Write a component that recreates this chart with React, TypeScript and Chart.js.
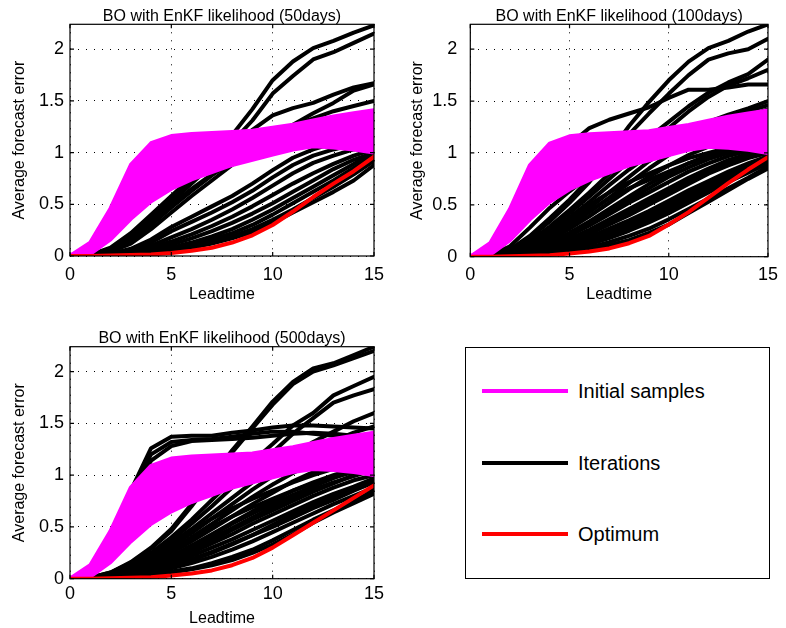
import React, { useEffect, useRef } from "react";
import { Chart, registerables } from "chart.js";

Chart.register(...registerables);

// ---------------- data ----------------
const leadtime = [0, 1, 2, 3, 4, 5, 6, 7, 8, 9, 10, 11, 12, 13, 14, 15];
const xTickLabels = ["0", "5", "10", "15"];
const yTickLabels = ["0", "0.5", "1", "1.5", "2"];
const titles = [
  "BO with EnKF likelihood (50days)",
  "BO with EnKF likelihood (100days)",
  "BO with EnKF likelihood (500days)",
];
const xLabel = "Leadtime";
const yLabel = "Average forecast error";
const legendLabels = ["Initial samples", "Iterations", "Optimum"];

// initial samples (first = upper edge of band, last = lower edge)
const initialSamples = [
  [0, 0.13, 0.46, 0.88, 1.09, 1.16, 1.18, 1.19, 1.2, 1.21, 1.24, 1.27, 1.31, 1.35, 1.38, 1.41],
  [0, 0.1, 0.38, 0.75, 0.98, 1.08, 1.12, 1.15, 1.17, 1.19, 1.22, 1.25, 1.28, 1.3, 1.32, 1.34],
  [0, 0.08, 0.32, 0.65, 0.88, 1.0, 1.06, 1.1, 1.13, 1.16, 1.19, 1.22, 1.24, 1.26, 1.28, 1.3],
  [0, 0.06, 0.27, 0.56, 0.78, 0.9, 0.98, 1.03, 1.07, 1.1, 1.14, 1.17, 1.2, 1.22, 1.24, 1.25],
  [0, 0.05, 0.23, 0.48, 0.69, 0.82, 0.9, 0.96, 1.01, 1.05, 1.09, 1.13, 1.16, 1.18, 1.19, 1.2],
  [0, 0.04, 0.2, 0.43, 0.62, 0.75, 0.84, 0.9, 0.96, 1.0, 1.05, 1.09, 1.12, 1.13, 1.12, 1.1],
  [0, 0.03, 0.18, 0.4, 0.57, 0.7, 0.79, 0.86, 0.92, 0.97, 1.01, 1.06, 1.1, 1.1, 1.08, 1.05],
  [0, 0.02, 0.16, 0.36, 0.53, 0.65, 0.74, 0.81, 0.88, 0.93, 0.98, 1.03, 1.06, 1.05, 1.03, 1.0],
];

const iterations50 = [
  [0, 0.01, 0.08, 0.22, 0.4, 0.58, 0.76, 0.96, 1.17, 1.42, 1.7, 1.88, 2.01, 2.08, 2.16, 2.23],
  [0, 0.01, 0.07, 0.2, 0.37, 0.55, 0.73, 0.92, 1.1, 1.31, 1.57, 1.74, 1.9, 1.97, 2.06, 2.15],
  [0, 0.01, 0.06, 0.18, 0.34, 0.52, 0.7, 0.88, 1.06, 1.22, 1.36, 1.43, 1.48, 1.56, 1.63, 1.67],
  [0, 0, 0.04, 0.12, 0.26, 0.42, 0.58, 0.73, 0.88, 1.02, 1.15, 1.27, 1.38, 1.48, 1.6, 1.66],
  [0, 0, 0.05, 0.15, 0.3, 0.47, 0.63, 0.78, 0.92, 1.05, 1.17, 1.26, 1.33, 1.4, 1.45, 1.5],
  [0, 0.01, 0.07, 0.2, 0.38, 0.56, 0.73, 0.87, 0.98, 1.08, 1.15, 1.2, 1.25, 1.29, 1.33, 1.36],
  [0, 0.01, 0.06, 0.17, 0.32, 0.49, 0.65, 0.79, 0.9, 0.99, 1.06, 1.12, 1.17, 1.21, 1.24, 1.27],
  [0, 0, 0.02, 0.07, 0.16, 0.28, 0.38, 0.48, 0.58, 0.7, 0.83, 0.95, 1.03, 1.09, 1.13, 1.16],
  [0, 0, 0.02, 0.06, 0.13, 0.24, 0.33, 0.42, 0.52, 0.63, 0.76, 0.88, 0.97, 1.03, 1.08, 1.11],
  [0, 0, 0.01, 0.05, 0.1, 0.18, 0.26, 0.35, 0.45, 0.56, 0.68, 0.8, 0.9, 0.97, 1.03, 1.07],
  [0, 0, 0.01, 0.04, 0.08, 0.14, 0.21, 0.29, 0.38, 0.48, 0.59, 0.7, 0.8, 0.89, 0.97, 1.03],
  [0, 0, 0.01, 0.03, 0.06, 0.11, 0.17, 0.24, 0.32, 0.41, 0.51, 0.62, 0.73, 0.84, 0.93, 1.0],
  [0, 0, 0.01, 0.02, 0.04, 0.07, 0.11, 0.16, 0.22, 0.3, 0.4, 0.51, 0.62, 0.73, 0.85, 0.97],
  [0, 0, 0.01, 0.02, 0.04, 0.06, 0.09, 0.14, 0.19, 0.26, 0.35, 0.45, 0.56, 0.67, 0.79, 0.92],
  [0, 0, 0.01, 0.02, 0.03, 0.05, 0.08, 0.12, 0.17, 0.23, 0.32, 0.42, 0.52, 0.62, 0.73, 0.88],
  [0, 0, 0.01, 0.02, 0.05, 0.08, 0.13, 0.19, 0.26, 0.35, 0.45, 0.56, 0.67, 0.78, 0.89, 1.0],
];
const optimum50 = [0, 0, 0.005, 0.01, 0.015, 0.03, 0.05, 0.08, 0.13, 0.2, 0.3, 0.43, 0.57, 0.7, 0.82, 0.96];

const iterations100 = [
  [0, 0.01, 0.07, 0.2, 0.37, 0.55, 0.75, 1.0, 1.26, 1.49, 1.7, 1.88, 2.01, 2.08, 2.17, 2.24],
  [0, 0.01, 0.06, 0.18, 0.34, 0.52, 0.72, 0.96, 1.18, 1.38, 1.57, 1.75, 1.9, 1.96, 2.0, 2.1],
  [0, 0.01, 0.17, 0.45, 0.8, 1.08, 1.24, 1.32, 1.38, 1.44, 1.53, 1.61, 1.61, 1.63, 1.66, 1.66],
  [0, 0.01, 0.05, 0.15, 0.29, 0.45, 0.62, 0.8, 0.98, 1.15, 1.3, 1.45, 1.58, 1.68, 1.76, 1.9],
  [0, 0.01, 0.05, 0.14, 0.27, 0.42, 0.58, 0.75, 0.92, 1.08, 1.24, 1.4, 1.54, 1.65, 1.72, 1.8],
  [0, 0, 0.04, 0.12, 0.24, 0.38, 0.53, 0.69, 0.84, 0.98, 1.1, 1.2, 1.3, 1.37, 1.43, 1.5],
  [0, 0, 0.03, 0.1, 0.2, 0.33, 0.47, 0.62, 0.77, 0.92, 1.05, 1.16, 1.26, 1.34, 1.4, 1.46],
  [0, 0, 0.03, 0.09, 0.18, 0.3, 0.43, 0.57, 0.71, 0.85, 0.98, 1.1, 1.2, 1.28, 1.36, 1.42],
  [0, 0, 0.03, 0.08, 0.16, 0.27, 0.39, 0.52, 0.65, 0.77, 0.88, 0.98, 1.06, 1.12, 1.16, 1.2],
  [0, 0, 0.02, 0.07, 0.14, 0.23, 0.34, 0.46, 0.58, 0.7, 0.8, 0.9, 0.98, 1.04, 1.08, 1.1],
  [0, 0, 0.02, 0.06, 0.12, 0.2, 0.3, 0.41, 0.52, 0.62, 0.72, 0.82, 0.9, 0.97, 1.02, 1.05],
  [0, 0, 0.02, 0.05, 0.1, 0.17, 0.26, 0.36, 0.46, 0.56, 0.66, 0.76, 0.85, 0.93, 0.99, 1.03],
  [0, 0, 0.01, 0.04, 0.09, 0.15, 0.22, 0.31, 0.4, 0.5, 0.6, 0.7, 0.8, 0.88, 0.95, 1.0],
  [0, 0, 0.01, 0.04, 0.08, 0.13, 0.19, 0.27, 0.35, 0.44, 0.54, 0.64, 0.73, 0.82, 0.9, 0.97],
  [0, 0, 0.01, 0.03, 0.06, 0.1, 0.15, 0.22, 0.3, 0.39, 0.48, 0.58, 0.68, 0.77, 0.86, 0.94],
  [0, 0, 0.01, 0.03, 0.05, 0.08, 0.12, 0.18, 0.25, 0.33, 0.42, 0.52, 0.62, 0.72, 0.81, 0.9],
  [0, 0, 0.01, 0.02, 0.04, 0.06, 0.09, 0.14, 0.2, 0.27, 0.36, 0.46, 0.56, 0.66, 0.76, 0.87],
  [0, 0, 0.01, 0.02, 0.03, 0.05, 0.07, 0.11, 0.16, 0.23, 0.31, 0.42, 0.53, 0.64, 0.75, 0.85],
  [0, 0, 0.03, 0.1, 0.22, 0.36, 0.5, 0.62, 0.72, 0.8, 0.88, 0.95, 1.0, 1.05, 1.08, 1.12],
  [0, 0, 0.02, 0.08, 0.18, 0.3, 0.44, 0.56, 0.66, 0.74, 0.82, 0.9, 0.96, 1.02, 1.05, 1.08],
  [0, 0.01, 0.1, 0.28, 0.47, 0.63, 0.78, 0.9, 1.0, 1.08, 1.15, 1.2, 1.25, 1.28, 1.3, 1.33],
  [0, 0, 0.02, 0.06, 0.13, 0.22, 0.32, 0.44, 0.55, 0.66, 0.77, 0.86, 0.94, 1.0, 1.05, 1.09],
  [0, 0, 0.01, 0.04, 0.09, 0.16, 0.24, 0.33, 0.43, 0.53, 0.63, 0.73, 0.82, 0.9, 0.97, 1.02],
  [0, 0, 0.01, 0.03, 0.07, 0.12, 0.17, 0.24, 0.32, 0.41, 0.51, 0.61, 0.71, 0.8, 0.88, 0.95],
  [0, 0, 0.01, 0.02, 0.05, 0.09, 0.13, 0.19, 0.27, 0.36, 0.45, 0.55, 0.65, 0.74, 0.83, 0.92],
];
const optimum100 = [0, 0, 0.005, 0.01, 0.015, 0.03, 0.05, 0.08, 0.13, 0.2, 0.31, 0.43, 0.57, 0.71, 0.84, 0.96];

const iterations500 = [
  [0, 0.01, 0.06, 0.16, 0.3, 0.48, 0.72, 0.98, 1.24, 1.47, 1.71, 1.9, 2.03, 2.08, 2.16, 2.24],
  [0, 0.01, 0.06, 0.15, 0.29, 0.46, 0.7, 0.96, 1.22, 1.45, 1.68, 1.88, 2.0, 2.06, 2.13, 2.2],
  [0, 0.01, 0.05, 0.13, 0.25, 0.4, 0.57, 0.76, 0.95, 1.13, 1.3, 1.48, 1.6, 1.77, 1.86, 1.95],
  [0, 0.01, 0.05, 0.12, 0.23, 0.37, 0.53, 0.7, 0.88, 1.05, 1.22, 1.4, 1.55, 1.7, 1.77, 1.83],
  [0, 0, 0.04, 0.11, 0.21, 0.34, 0.48, 0.63, 0.78, 0.93, 1.07, 1.2, 1.32, 1.42, 1.52, 1.6],
  [0, 0.01, 0.4, 0.85, 1.26, 1.37, 1.38, 1.38, 1.41, 1.43, 1.46, 1.48, 1.48, 1.47, 1.46, 1.45],
  [0, 0.01, 0.38, 0.82, 1.2, 1.32, 1.34, 1.35, 1.37, 1.4, 1.42, 1.42, 1.4, 1.38, 1.37, 1.36],
  [0, 0.01, 0.36, 0.8, 1.14, 1.28, 1.33, 1.34, 1.35, 1.36, 1.38, 1.4, 1.41, 1.4, 1.38, 1.35],
  [0, 0, 0.04, 0.1, 0.19, 0.31, 0.44, 0.58, 0.72, 0.86, 0.99, 1.12, 1.23, 1.33, 1.41, 1.47],
  [0, 0, 0.03, 0.09, 0.17, 0.28, 0.4, 0.53, 0.66, 0.79, 0.91, 1.02, 1.12, 1.2, 1.26, 1.3],
  [0, 0, 0.03, 0.08, 0.15, 0.25, 0.36, 0.48, 0.6, 0.72, 0.83, 0.94, 1.03, 1.1, 1.16, 1.2],
  [0, 0, 0.02, 0.07, 0.13, 0.22, 0.32, 0.43, 0.54, 0.65, 0.75, 0.85, 0.93, 1.0, 1.06, 1.1],
  [0, 0, 0.02, 0.06, 0.12, 0.2, 0.29, 0.39, 0.49, 0.59, 0.69, 0.78, 0.86, 0.93, 0.99, 1.05],
  [0, 0, 0.02, 0.05, 0.1, 0.17, 0.25, 0.34, 0.43, 0.53, 0.62, 0.71, 0.8, 0.88, 0.95, 1.0],
  [0, 0, 0.01, 0.04, 0.09, 0.15, 0.22, 0.3, 0.38, 0.47, 0.56, 0.65, 0.74, 0.82, 0.89, 0.97],
  [0, 0, 0.01, 0.04, 0.08, 0.13, 0.19, 0.26, 0.34, 0.42, 0.5, 0.59, 0.68, 0.76, 0.85, 0.93],
  [0, 0, 0.01, 0.03, 0.06, 0.1, 0.15, 0.21, 0.28, 0.36, 0.45, 0.54, 0.63, 0.72, 0.8, 0.88],
  [0, 0, 0.01, 0.02, 0.04, 0.07, 0.1, 0.15, 0.21, 0.28, 0.37, 0.47, 0.57, 0.66, 0.75, 0.85],
  [0, 0, 0.01, 0.02, 0.04, 0.06, 0.09, 0.13, 0.18, 0.25, 0.33, 0.43, 0.54, 0.64, 0.73, 0.82],
  [0, 0, 0.03, 0.1, 0.2, 0.33, 0.46, 0.58, 0.68, 0.77, 0.85, 0.93, 1.0, 1.06, 1.1, 1.14],
  [0, 0, 0.02, 0.07, 0.15, 0.26, 0.38, 0.5, 0.6, 0.69, 0.77, 0.85, 0.92, 0.98, 1.03, 1.07],
  [0, 0, 0.02, 0.06, 0.12, 0.21, 0.31, 0.42, 0.53, 0.63, 0.72, 0.81, 0.89, 0.97, 1.04, 1.1],
  [0, 0, 0.01, 0.05, 0.1, 0.18, 0.27, 0.37, 0.47, 0.57, 0.66, 0.75, 0.84, 0.92, 1.0, 1.06],
  [0, 0, 0.01, 0.03, 0.07, 0.12, 0.18, 0.25, 0.33, 0.42, 0.52, 0.62, 0.71, 0.79, 0.87, 0.95],
];
const optimum500 = [0, 0, 0.005, 0.01, 0.015, 0.03, 0.05, 0.08, 0.13, 0.2, 0.3, 0.42, 0.54, 0.66, 0.78, 0.9];

// ---------------- style ----------------
const MAGENTA = "#ff00ff";
const BLACK = "#000000";
const RED = "#ff0000";
const FONT = "'Liberation Sans', Arial, Helvetica, sans-serif";
const LINE_W = 4;

type PanelLayout = {
  left: number;
  top: number;
  width: number;
  height: number;
  padRight: number;
  titlePadTop: number;
  yWidth: number;
  yTickPad: number;
  yTitlePad: number;
  xHeight: number;
  xTickPad: number;
  xTitlePad: number;
};

const layouts: PanelLayout[] = [
  { left: 0, top: 0, width: 393, height: 314, padRight: 19, titlePadTop: 8.3, yWidth: 70, yTickPad: 6, yTitlePad: 10, xHeight: 58, xTickPad: 8, xTitlePad: 9.4 },
  { left: 393, top: 0, width: 393, height: 314, padRight: 12.3, titlePadTop: 8.3, yWidth: 77.3, yTickPad: 13, yTitlePad: 15.4, xHeight: 57.3, xTickPad: 8, xTitlePad: 9.4 },
  { left: 0, top: 314, width: 393, height: 314, padRight: 19, titlePadTop: 16.7, yWidth: 70, yTickPad: 6, yTitlePad: 10, xHeight: 49.3, xTickPad: 4.5, xTitlePad: 0 },
];

const framePlugin = {
  id: "matlabFrame",
  afterDraw(chart: any) {
    const { ctx, chartArea: a, scales } = chart;
    ctx.save();
    ctx.setLineDash([]);
    ctx.strokeStyle = BLACK;
    ctx.lineWidth = 1.2;
    ctx.strokeRect(a.left, a.top, a.right - a.left, a.bottom - a.top);
    const len = 4;
    ctx.beginPath();
    scales.x.ticks.forEach((t: any) => {
      const px = scales.x.getPixelForValue(t.value);
      ctx.moveTo(px, a.bottom);
      ctx.lineTo(px, a.bottom - len);
      ctx.moveTo(px, a.top);
      ctx.lineTo(px, a.top + len);
    });
    scales.y.ticks.forEach((t: any) => {
      const py = scales.y.getPixelForValue(t.value);
      ctx.moveTo(a.left, py);
      ctx.lineTo(a.left + len, py);
      ctx.moveTo(a.right, py);
      ctx.lineTo(a.right - len, py);
    });
    ctx.stroke();
    ctx.restore();
  },
};

function toPoints(vals: number[]) {
  return leadtime.map((t, i) => ({ x: t, y: vals[i] }));
}

function Panel({ index, iterations, optimum }: { index: number; iterations: number[][]; optimum: number[] }) {
  const ref = useRef<HTMLCanvasElement | null>(null);
  const L = layouts[index];

  useEffect(() => {
    if (!ref.current) return;
    const bottomSampleIndex = 1 + initialSamples.length - 1;
    const datasets: any[] = [];
    datasets.push({
      label: legendLabels[2],
      data: toPoints(optimum),
      borderColor: RED,
      order: 0,
    });
    initialSamples.forEach((s, i) => {
      datasets.push({
        label: legendLabels[0],
        data: toPoints(s),
        borderColor: MAGENTA,
        backgroundColor: MAGENTA,
        order: 1,
        fill: i === 0 ? { target: bottomSampleIndex, above: MAGENTA, below: MAGENTA } : false,
      });
    });
    iterations.forEach((s) => {
      datasets.push({
        label: legendLabels[1],
        data: toPoints(s),
        borderColor: BLACK,
        order: 2,
      });
    });

    const chart = new Chart(ref.current, {
      type: "line",
      data: { datasets },
      plugins: [framePlugin],
      options: {
        responsive: false,
        animation: false,
        events: [],
        layout: { padding: { left: 0, right: L.padRight, top: 0, bottom: 0 } },
        elements: {
          point: { radius: 0 },
          line: { tension: 0, borderWidth: LINE_W, borderJoinStyle: "round", borderCapStyle: "round" },
        },
        plugins: {
          legend: { display: false },
          tooltip: { enabled: false },
          title: {
            display: true,
            text: titles[index],
            fullSize: false,
            color: BLACK,
            font: { family: FONT, size: 16, weight: "normal", lineHeight: 1 },
            padding: { top: L.titlePadTop, bottom: 0 },
          },
        },
        scales: {
          x: {
            type: "linear",
            min: 0,
            max: 15,
            afterFit: (s: any) => {
              s.height = L.xHeight;
            },
            ticks: {
              stepSize: 5,
              autoSkip: false,
              maxRotation: 0,
              color: BLACK,
              font: { family: FONT, size: 18 },
              padding: L.xTickPad,
              callback: (v: any) => {
                const i = [0, 5, 10, 15].indexOf(Number(v));
                return i >= 0 ? xTickLabels[i] : "";
              },
            },
            grid: { color: BLACK, lineWidth: 1, drawTicks: false },
            border: { display: false, dash: [1, 7] },
            title: {
              display: true,
              text: xLabel,
              color: BLACK,
              font: { family: FONT, size: 16 },
              padding: { top: 0, bottom: L.xTitlePad },
            },
          },
          y: {
            type: "linear",
            min: 0,
            max: 2.24,
            afterFit: (s: any) => {
              s.width = L.yWidth;
            },
            ticks: {
              stepSize: 0.5,
              includeBounds: false,
              color: BLACK,
              font: { family: FONT, size: 18 },
              padding: L.yTickPad,
              callback: (v: any) => {
                const i = Math.round(Number(v) * 2);
                return yTickLabels[i] ?? "";
              },
            },
            grid: { color: BLACK, lineWidth: 1, drawTicks: false },
            border: { display: false, dash: [1, 7] },
            title: {
              display: true,
              text: yLabel,
              color: BLACK,
              font: { family: FONT, size: 16 },
              padding: { top: L.yTitlePad, bottom: 0 },
            },
          },
        },
      } as any,
    });
    return () => chart.destroy();
  }, [index, iterations, optimum]);

  return (
    <canvas
      ref={ref}
      width={L.width}
      height={L.height}
      style={{ position: "absolute", left: L.left, top: L.top, width: L.width, height: L.height }}
    />
  );
}

function LegendBox() {
  const colors = [MAGENTA, BLACK, RED];
  const rows = [44, 116, 187];
  return (
    <div
      style={{
        position: "absolute",
        left: 465,
        top: 347,
        width: 305,
        height: 232,
        border: "1px solid #000",
        boxSizing: "border-box",
        background: "#fff",
        fontFamily: FONT,
      }}
    >
      {legendLabels.map((lab, i) => (
        <React.Fragment key={lab}>
          <div
            style={{
              position: "absolute",
              left: 16,
              top: rows[i] - 2 - 1,
              width: 86,
              height: 4,
              background: colors[i],
            }}
          />
          <div
            style={{
              position: "absolute",
              left: 112,
              top: rows[i] - 12 - 1,
              height: 24,
              lineHeight: "24px",
              fontSize: 20,
              color: "#000",
              whiteSpace: "nowrap",
            }}
          >
            {lab}
          </div>
        </React.Fragment>
      ))}
    </div>
  );
}

export default function App() {
  return (
    <div
      style={{
        position: "absolute",
        left: 0,
        top: 0,
        width: 786,
        height: 628,
        background: "#fff",
        overflow: "hidden",
      }}
    >
      <Panel index={0} iterations={iterations50} optimum={optimum50} />
      <Panel index={1} iterations={iterations100} optimum={optimum100} />
      <Panel index={2} iterations={iterations500} optimum={optimum500} />
      <LegendBox />
    </div>
  );
}
